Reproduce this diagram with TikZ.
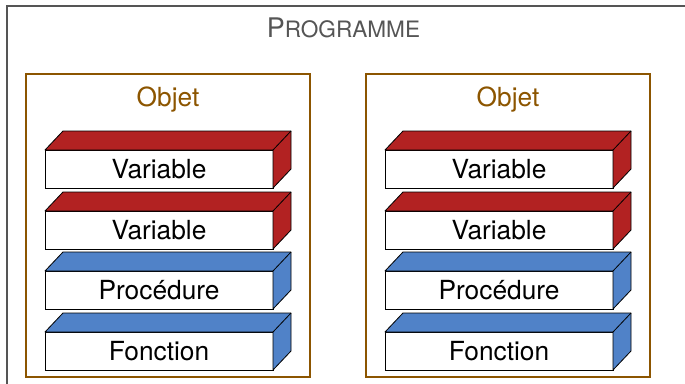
\documentclass[tikz,border=0pt]{standalone}
\usepackage{fontspec}
\setmainfont{TeX Gyre Heros}
\usepackage{xcolor}
\usepackage{tikz}
\usetikzlibrary{positioning}
\definecolor{brun}{RGB}{140,85,0}
\definecolor{rouge}{RGB}{178,34,34}
\definecolor{bleu}{RGB}{80,130,200}
\definecolor{gris}{RGB}{85,85,85}

\begin{document}
\begin{tikzpicture}[x=1pt,y=-1pt,
	face/.style={draw=black,fill=white,line width=0.8pt,minimum width=228pt,minimum height=38pt,inner sep=0pt,outer sep=0pt,text height=18.8pt,text depth=0pt,font=\fontsize{26.3}{30}\selectfont},
	cadre/.style={draw=brun,line width=2pt,minimum width=284pt,minimum height=303pt,inner sep=0pt}]
	\useasboundingbox (0,0) rectangle (685,383);
	\draw[gris,line width=2pt] (7,400) |- (700,6);
	\node[gris,anchor=base] (titre) at (343.5,37.3) {\fontsize{27}{30}\selectfont P\fontsize{22.6}{26}\selectfont ROGRAMME};
	\foreach \ox/\k in {0/1,340/2}{
		\node[cadre] (cadre\k) at (168+\ox,225.5) {};
		\node[brun,anchor=base,font=\fontsize{26.3}{30}\selectfont] (objet\k) at (168+\ox,106) {Objet};
		\foreach \oy/\nom/\coul [count=\j] in {150/Variable/rouge,211/Variable/rouge,271/Procédure/bleu,332/Fonction/bleu}{
			\node[face] (bloc\k\j) at (159+\ox,\oy+19) {\nom};
			\filldraw[fill=\coul,line width=0.8pt,line join=round] (bloc\k\j.north west) -- ++(18,-19) -- ++(228,0) -- ++(0,38) -- (bloc\k\j.south east) -- (bloc\k\j.north east) -- cycle;
			\draw[line width=0.8pt] (bloc\k\j.north east) -- ++(18,-19);
		}
	}
\end{tikzpicture}
\end{document}
